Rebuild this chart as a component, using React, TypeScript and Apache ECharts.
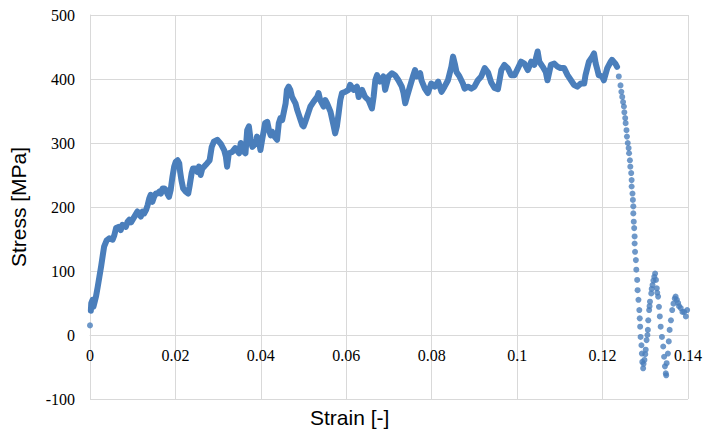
import React, { useEffect, useRef } from "react";
import * as echarts from "echarts";

const xTicks = [0, 0.02, 0.04, 0.06, 0.08, 0.1, 0.12, 0.14];
const yTicks = [-100, 0, 100, 200, 300, 400, 500];

// first lone reading at zero strain
const startPoint: number[][] = [[0, 15]];

// dense part of the curve (strain [-], stress [MPa])
const denseCurve: number[][] = [
  [0.0002, 38], [0.0003, 50], [0.0006, 55], [0.0008, 44], [0.0011, 52], [0.0014, 60], [0.0018, 75],
  [0.0022, 91], [0.0026, 107], [0.003, 125], [0.0033, 138], [0.0039, 148], [0.0045, 151], [0.0053, 149],
  [0.0057, 156], [0.0061, 167], [0.0068, 169], [0.0072, 164], [0.0076, 172], [0.0084, 169], [0.0088, 177],
  [0.0092, 180], [0.0096, 176], [0.0104, 185], [0.0111, 193], [0.0115, 190], [0.0119, 185], [0.0123, 193],
  [0.0127, 190], [0.0131, 195], [0.0135, 203], [0.0139, 214], [0.0142, 219], [0.0146, 208], [0.015, 216],
  [0.0154, 221], [0.0158, 221], [0.0162, 224], [0.0166, 221], [0.017, 229], [0.0174, 229], [0.0177, 227],
  [0.0181, 221], [0.0185, 216], [0.0189, 227], [0.0193, 247], [0.0197, 263], [0.0201, 271], [0.0205, 273],
  [0.0209, 268], [0.0211, 255], [0.0214, 242], [0.0218, 229], [0.0224, 224], [0.023, 221], [0.0233, 232],
  [0.0238, 253], [0.0241, 260], [0.0247, 260], [0.0251, 255], [0.0255, 263], [0.0259, 250], [0.0263, 260],
  [0.0267, 263], [0.0271, 266], [0.0274, 268], [0.028, 273], [0.0285, 294], [0.029, 302], [0.0298, 305],
  [0.0306, 299], [0.0314, 289], [0.0318, 279], [0.0321, 263], [0.0325, 284], [0.0333, 286], [0.034, 292],
  [0.0349, 284], [0.0353, 300], [0.0356, 289], [0.0364, 284], [0.0368, 320], [0.0372, 326], [0.0376, 305],
  [0.038, 294], [0.0388, 299], [0.0391, 310], [0.0395, 305], [0.0399, 289], [0.0403, 305], [0.0407, 320],
  [0.041, 331], [0.0415, 333], [0.0419, 320], [0.0423, 312], [0.0426, 318], [0.043, 312], [0.0438, 305],
  [0.0442, 331], [0.0446, 339], [0.045, 336], [0.0454, 349], [0.0458, 362], [0.0461, 383], [0.0465, 388],
  [0.0469, 383], [0.0473, 372], [0.0477, 367], [0.0481, 362], [0.0485, 352], [0.0489, 344], [0.0493, 336],
  [0.0497, 328], [0.05, 326], [0.0504, 333], [0.0508, 341], [0.0512, 349], [0.0516, 357], [0.0524, 365],
  [0.0532, 372], [0.0535, 378], [0.0539, 367], [0.0543, 362], [0.0547, 357], [0.0551, 367], [0.0555, 362],
  [0.0563, 349], [0.057, 328], [0.0574, 315], [0.0578, 326], [0.0582, 346], [0.0586, 367], [0.059, 378],
  [0.0598, 380], [0.0605, 383], [0.0609, 391], [0.0617, 383], [0.0625, 388], [0.0629, 372], [0.0633, 378],
  [0.0637, 383], [0.0644, 372], [0.0652, 367], [0.066, 354], [0.0664, 372], [0.0668, 398], [0.0672, 406],
  [0.0679, 396], [0.0687, 404], [0.0691, 383], [0.0699, 404], [0.0707, 409], [0.0714, 406], [0.0722, 398],
  [0.073, 388], [0.0734, 378], [0.0738, 362], [0.0742, 372], [0.0749, 388], [0.0757, 406], [0.0761, 414],
  [0.0765, 404], [0.0773, 409], [0.0776, 398], [0.0784, 385], [0.0791, 378], [0.0799, 393], [0.0807, 388],
  [0.0815, 396], [0.0823, 380], [0.083, 388], [0.0838, 398], [0.0846, 419], [0.085, 435], [0.0854, 424],
  [0.0858, 411], [0.0865, 404], [0.0873, 393], [0.0877, 385], [0.0885, 388], [0.0893, 385], [0.09, 388],
  [0.0908, 398], [0.0916, 404], [0.0924, 417], [0.0932, 410], [0.0939, 395], [0.0947, 386], [0.0955, 384],
  [0.0963, 414], [0.097, 422], [0.0978, 417], [0.0986, 406], [0.0994, 406], [0.1002, 417], [0.1009, 427],
  [0.1017, 424], [0.1025, 414], [0.1033, 427], [0.104, 422], [0.1048, 443], [0.1052, 427], [0.106, 419],
  [0.1067, 411], [0.1071, 398], [0.1079, 422], [0.1087, 424], [0.1095, 419], [0.1102, 417], [0.111, 417],
  [0.1118, 406], [0.1126, 398], [0.1133, 391], [0.1141, 388], [0.1149, 393], [0.1157, 393], [0.116, 406],
  [0.1168, 427], [0.1176, 435], [0.118, 440], [0.1184, 424], [0.1188, 414], [0.1191, 406], [0.1199, 404],
  [0.1203, 398], [0.1211, 417], [0.1219, 427], [0.1222, 430], [0.123, 424], [0.1234, 419],
];

// sparse part after failure onset
const failurePoints: number[][] = [
  [0.1238, 404], [0.1242, 390], [0.1244, 380], [0.1246, 372], [0.1248, 364], [0.125, 357], [0.1251, 348],
  [0.1253, 339], [0.1254, 331], [0.1256, 320], [0.1257, 310], [0.1259, 300], [0.1261, 292], [0.1262, 284],
  [0.1264, 273], [0.1265, 263], [0.1267, 253], [0.1268, 242], [0.1268, 232], [0.127, 221], [0.1271, 211],
  [0.1272, 201], [0.1272, 190], [0.1273, 177], [0.1274, 167], [0.1275, 154], [0.1275, 143], [0.1276, 130],
  [0.1278, 117], [0.1279, 102], [0.1281, 86], [0.1282, 70], [0.1284, 55], [0.1286, 39], [0.1287, 26],
  [0.1288, 13], [0.1289, -3], [0.1291, -16], [0.1292, -29], [0.1293, -42], [0.1295, -52], [0.1296, -45],
  [0.1298, -39], [0.13, -30], [0.1301, -23], [0.1303, -8], [0.1305, 0], [0.1306, 8], [0.1307, 23],
  [0.1309, 39], [0.131, 45], [0.1311, 52], [0.1314, 65], [0.1315, 72], [0.1317, 78], [0.1319, 85],
  [0.1321, 91], [0.1323, 96], [0.1325, 86], [0.1327, 73], [0.1328, 66], [0.133, 60], [0.1332, 44],
  [0.1334, 29], [0.1336, 13], [0.1339, -3], [0.1342, -18], [0.1344, -34], [0.1346, -49], [0.1348, -60],
  [0.1349, -63], [0.135, -44], [0.1353, -29], [0.1355, -10], [0.1357, 8], [0.136, 23], [0.1363, 39],
  [0.1366, 49], [0.1369, 57], [0.1371, 60], [0.1374, 55], [0.1377, 50], [0.1379, 45], [0.1383, 42],
  [0.1387, 36], [0.1391, 36], [0.1395, 29], [0.1398, 39],
];

const BLUE = "#4a7ebb";
const GRID = "#d9d9d9";

export default function App() {
  const ref = useRef<HTMLDivElement>(null);
  useEffect(() => {
    if (!ref.current) return;
    const chart = echarts.init(ref.current, undefined, { renderer: "svg" });
    chart.setOption({
      animation: false,
      backgroundColor: "#fff",
      grid: { left: 89, right: 16, top: 15, bottom: 33, containLabel: false },
      xAxis: {
        type: "value",
        min: xTicks[0],
        max: xTicks[xTicks.length - 1],
        interval: 0.02,
        position: "bottom",
        offset: -64,
        axisLine: { show: true, onZero: false, lineStyle: { color: GRID, width: 1 } },
        axisTick: { show: false },
        splitLine: { show: true, lineStyle: { color: GRID, width: 1 } },
        axisLabel: {
          margin: 12,
          fontFamily: "Liberation Serif",
          fontSize: 16,
          color: "#000",
          formatter: (v: number) => String(+v.toFixed(2)),
        },
      },
      yAxis: {
        type: "value",
        min: yTicks[0],
        max: yTicks[yTicks.length - 1],
        interval: 100,
        name: "Stress [MPa]",
        nameLocation: "middle",
        nameGap: 61,
        nameTextStyle: { fontFamily: "Liberation Sans", fontSize: 21, color: "#000" },
        axisLine: { show: true, onZero: false, lineStyle: { color: GRID, width: 1 } },
        axisTick: { show: false },
        splitLine: { show: true, lineStyle: { color: GRID, width: 1 } },
        axisLabel: {
          margin: 15,
          fontFamily: "Liberation Serif",
          fontSize: 16,
          color: "#000",
        },
      },
      graphic: [
        {
          type: "text",
          left: 310,
          top: 407,
          style: {
            text: "Strain [-]",
            font: "21px 'Liberation Sans'",
            fill: "#000",
          },
        },
      ],
      series: [
        {
          type: "line",
          data: denseCurve,
          showSymbol: false,
          symbol: "none",
          lineStyle: { color: BLUE, width: 6, join: "round", cap: "round" },
          z: 2,
        },
        {
          type: "scatter",
          data: startPoint.concat(failurePoints),
          symbol: "circle",
          symbolSize: 6,
          itemStyle: { color: BLUE },
          z: 3,
        },
      ],
    });
    return () => chart.dispose();
  }, []);
  return (
    <div
      ref={ref}
      style={{ position: "fixed", left: 0, top: 0, width: 705, height: 432 }}
    />
  );
}
